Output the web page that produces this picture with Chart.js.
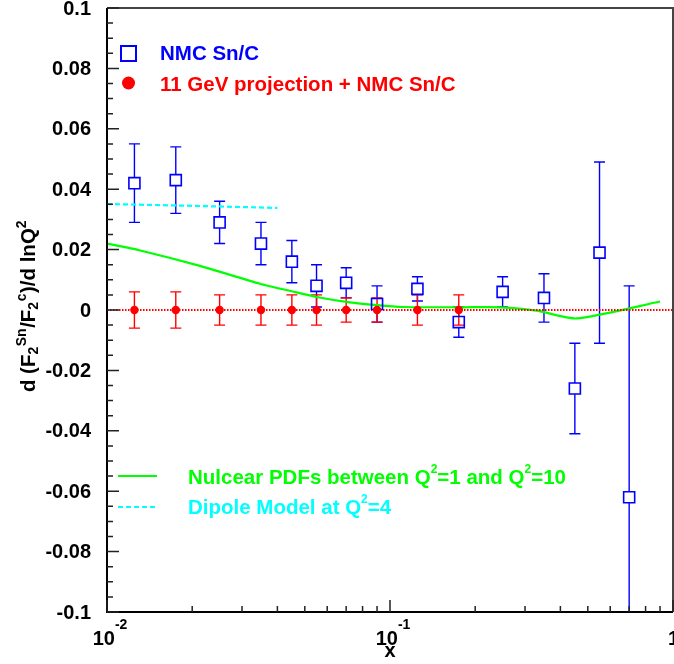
<!DOCTYPE html>
<html>
<head>
<meta charset="utf-8">
<script src="https://cdn.jsdelivr.net/npm/chart.js@4.4.0/dist/chart.umd.min.js"></script>
<style>
  html, body { margin: 0; padding: 0; background: #fff; }
  canvas { display: block; }
</style>
</head>
<body>
<canvas id="plot" width="674" height="664"></canvas>
<script>
// NMC Sn/C data points
const nmcX = [0.0125, 0.0175, 0.025, 0.035, 0.045, 0.055, 0.07, 0.09, 0.125, 0.175, 0.25, 0.35, 0.45, 0.55, 0.7];
const nmcY = [0.042, 0.043, 0.029, 0.022, 0.016, 0.008, 0.009, 0.002, 0.007, -0.004, 0.006, 0.004, -0.026, 0.019, -0.062];
const nmcErr = [0.013, 0.011, 0.007, 0.007, 0.007, 0.007, 0.005, 0.006, 0.004, 0.005, 0.005, 0.008, 0.015, 0.030, 0.070];

// 11 GeV projection
const projX = [0.0125, 0.0175, 0.025, 0.035, 0.045, 0.055, 0.07, 0.09, 0.125, 0.175];
const projY = [0, 0, 0, 0, 0, 0, 0, 0, 0, 0];
const projErr = [0.006, 0.006, 0.005, 0.005, 0.005, 0.005, 0.004, 0.004, 0.005, 0.005];

// nuclear PDF curve
const npdfX = [0.01, 0.013, 0.0213, 0.0347, 0.045, 0.0551, 0.0722, 0.09, 0.11, 0.18, 0.245, 0.33, 0.457, 0.9];
const npdfY = [0.022, 0.0198, 0.0146, 0.0087, 0.0062, 0.0043, 0.0025, 0.0016, 0.001, 0.0009, 0.0009, -0.0002, -0.0028, 0.0028];

// dipole model
const dipoleX = [0.01, 0.02, 0.04];
const dipoleY = [0.0351, 0.0345, 0.0338];

// zero reference line
const zeroX = [0.01, 1];
const zeroY = [0, 0];

// axis ticks
const yTickVals = [0.1, 0.08, 0.06, 0.04, 0.02, 0, -0.02, -0.04, -0.06, -0.08, -0.1];
const yTickLabels = ['0.1', '0.08', '0.06', '0.04', '0.02', '0', '-0.02', '-0.04', '-0.06', '-0.08', '-0.1'];
const xMajorVals = [0.01, 0.1, 1];
const xMajorLabels = [['10', '-2'], ['10', '-1'], ['1', '']];

const FONT = '"Liberation Sans", Arial, sans-serif';
const BLUE = '#0000ff', RED = '#ff0000', GREEN = '#00ff00', CYAN = '#00ffff';

function pts(xs, ys) {
  return xs.map((x, i) => ({ x: x, y: ys[i] }));
}

// draw text with sub/superscripts; parts are {t}, {sup}, {sub}
function richWidth(ctx, parts, o) {
  let w = 0;
  parts.forEach(p => {
    if (p.t !== undefined) { ctx.font = o.main; w += ctx.measureText(p.t).width; }
    else {
      ctx.font = o.small;
      w += ctx.measureText(p.sup || p.sub).width + (o.pad || 0);
    }
  });
  return w;
}

function drawRich(ctx, parts, x, y, o) {
  ctx.textBaseline = 'alphabetic';
  ctx.textAlign = 'left';
  parts.forEach(p => {
    if (p.t !== undefined) {
      ctx.font = o.main;
      ctx.fillText(p.t, x, y);
      x += ctx.measureText(p.t).width;
    } else {
      ctx.font = o.small;
      const s = p.sup || p.sub;
      ctx.fillText(s, x, p.sup ? y - o.rise : y + o.drop);
      x += ctx.measureText(s).width + (o.pad || 0);
    }
  });
}

function drawErrors(chart, xs, ys, errs, color, gap) {
  const ctx = chart.ctx, sx = chart.scales.x, sy = chart.scales.y, a = chart.chartArea;
  ctx.save();
  ctx.beginPath();
  ctx.rect(a.left, a.top - 1, a.right - a.left, a.bottom - a.top + 2);
  ctx.clip();
  ctx.strokeStyle = color;
  ctx.lineWidth = 1.4;
  xs.forEach((xv, i) => {
    const px = sx.getPixelForValue(xv);
    const py = sy.getPixelForValue(ys[i]);
    const top = Math.max(sy.getPixelForValue(ys[i] + errs[i]), a.top);
    const bot = Math.min(sy.getPixelForValue(ys[i] - errs[i]), a.bottom);
    ctx.beginPath();
    ctx.moveTo(px, top); ctx.lineTo(px, py - gap);
    ctx.moveTo(px, py + gap); ctx.lineTo(px, bot);
    ctx.moveTo(px - 5.5, top); ctx.lineTo(px + 5.5, top);
    ctx.moveTo(px - 5.5, bot); ctx.lineTo(px + 5.5, bot);
    ctx.stroke();
  });
  ctx.restore();
}

const rootStyle = {
  id: 'rootStyle',
  beforeDatasetsDraw(chart) {
    drawErrors(chart, nmcX, nmcY, nmcErr, BLUE, 5.5);
    drawErrors(chart, projX, projY, projErr, RED, 0);
  },
  afterDraw(chart) {
    const ctx = chart.ctx, sx = chart.scales.x, sy = chart.scales.y, a = chart.chartArea;
    ctx.save();

    // frame
    ctx.strokeStyle = '#444';
    ctx.lineWidth = 2;
    ctx.beginPath();
    ctx.moveTo(a.left, a.top); ctx.lineTo(a.right, a.top); ctx.lineTo(a.right, a.bottom);
    ctx.stroke();
    ctx.strokeStyle = '#000';
    ctx.beginPath();
    ctx.moveTo(a.left, a.top); ctx.lineTo(a.left, a.bottom); ctx.lineTo(a.right, a.bottom);
    ctx.stroke();

    // y ticks
    ctx.lineWidth = 1.5;
    ctx.strokeStyle = '#222';
    ctx.beginPath();
    for (let k = -20; k <= 20; k++) {
      const py = sy.getPixelForValue(k * 0.005);
      const len = (k % 4 === 0) ? 12 : 6;
      ctx.moveTo(a.left, py); ctx.lineTo(a.left + len, py);
    }
    // x ticks
    xMajorVals.forEach(v => {
      const px = sx.getPixelForValue(v);
      ctx.moveTo(px, a.bottom); ctx.lineTo(px, a.bottom - 12);
    });
    [0.01, 0.1].forEach(d => {
      for (let m = 2; m <= 9; m++) {
        const px = sx.getPixelForValue(m * d);
        ctx.moveTo(px, a.bottom); ctx.lineTo(px, a.bottom - 6);
      }
    });
    ctx.stroke();

    // y tick labels
    ctx.fillStyle = '#000';
    ctx.font = 'bold 20px ' + FONT;
    ctx.textAlign = 'right';
    ctx.textBaseline = 'middle';
    yTickVals.forEach((v, i) => {
      ctx.fillText(yTickLabels[i], a.left - 16, sy.getPixelForValue(v) + 1);
    });

    // x tick labels
    const xo = { main: 'bold 20px ' + FONT, small: 'bold 14px ' + FONT, rise: 16, drop: 0, pad: 0 };
    xMajorVals.forEach((v, i) => {
      const parts = [{ t: xMajorLabels[i][0] }];
      if (xMajorLabels[i][1]) parts.push({ sup: xMajorLabels[i][1] });
      const w = richWidth(ctx, parts, xo);
      const x0 = i === 2 ? sx.getPixelForValue(v) - 5 : sx.getPixelForValue(v) - w / 2 + 3;
      drawRich(ctx, parts, x0, 645, xo);
    });

    // x title
    ctx.font = 'bold 20px ' + FONT;
    ctx.textAlign = 'center';
    ctx.textBaseline = 'alphabetic';
    ctx.fillText('x', (a.left + a.right) / 2, 657);

    // y title
    const yo = { main: 'bold 20.5px ' + FONT, small: 'bold 14px ' + FONT, rise: 9, drop: 3, pad: 0.5 };
    const yParts = [{ t: 'd (F' }, { sub: '2' }, { sup: 'Sn' }, { t: '/F' }, { sub: '2' }, { sup: 'c' }, { t: ')/d lnQ' }, { sup: '2' }];
    const yw = richWidth(ctx, yParts, yo);
    ctx.save();
    ctx.translate(35, 306 + yw / 2);
    ctx.rotate(-Math.PI / 2);
    drawRich(ctx, yParts, 0, 0, yo);
    ctx.restore();

    // legend, top
    ctx.strokeStyle = BLUE;
    ctx.lineWidth = 2;
    ctx.strokeRect(121, 46, 15, 15);
    ctx.fillStyle = RED;
    ctx.beginPath();
    ctx.arc(128.5, 83, 6.5, 0, Math.PI * 2);
    ctx.fill();
    const lo = { main: 'bold 20.5px ' + FONT, small: 'bold 12px ' + FONT, rise: 11, drop: 0 };
    ctx.fillStyle = BLUE;
    drawRich(ctx, [{ t: 'NMC Sn/C' }], 160, 60, lo);
    ctx.fillStyle = RED;
    drawRich(ctx, [{ t: '11 GeV projection + NMC Sn/C' }], 160, 91, lo);

    // legend, bottom
    ctx.strokeStyle = GREEN;
    ctx.lineWidth = 2;
    ctx.beginPath();
    ctx.moveTo(118, 476); ctx.lineTo(157, 476);
    ctx.stroke();
    ctx.strokeStyle = CYAN;
    ctx.setLineDash([5, 3]);
    ctx.beginPath();
    ctx.moveTo(118, 507); ctx.lineTo(157, 507);
    ctx.stroke();
    ctx.setLineDash([]);
    ctx.fillStyle = GREEN;
    drawRich(ctx, [{ t: 'Nulcear PDFs between Q' }, { sup: '2' }, { t: '=1 and Q' }, { sup: '2' }, { t: '=10' }], 188, 484, lo);
    ctx.fillStyle = CYAN;
    drawRich(ctx, [{ t: 'Dipole Model at Q' }, { sup: '2' }, { t: '=4' }], 188, 514, lo);

    ctx.restore();
  }
};

const ctx = document.getElementById('plot').getContext('2d');
const chart = new Chart(ctx, {
  type: 'scatter',
  data: {
    datasets: [
      {
        label: '11 GeV projection + NMC Sn/C',
        data: pts(projX, projY),
        pointStyle: 'circle',
        pointRadius: 4.2,
        pointBackgroundColor: RED,
        pointBorderWidth: 0,
        showLine: false
      },
      {
        label: 'NMC Sn/C',
        data: pts(nmcX, nmcY),
        pointStyle: 'rect',
        pointRadius: 7.8,
        pointBackgroundColor: 'rgba(255,255,255,0)',
        pointBorderColor: BLUE,
        pointBorderWidth: 1.6,
        showLine: false
      },
      {
        label: 'zero',
        data: pts(zeroX, zeroY),
        showLine: true,
        borderColor: RED,
        borderWidth: 2,
        borderDash: [1.5, 1.5],
        pointRadius: 0
      },
      {
        label: 'Dipole Model at Q2=4',
        data: pts(dipoleX, dipoleY),
        showLine: true,
        borderColor: CYAN,
        borderWidth: 2.2,
        borderDash: [5, 3],
        pointRadius: 0
      },
      {
        label: 'Nulcear PDFs between Q2=1 and Q2=10',
        data: pts(npdfX, npdfY),
        showLine: true,
        borderColor: GREEN,
        borderWidth: 2.2,
        pointRadius: 0,
        tension: 0.2
      }
    ]
  },
  options: {
    responsive: false,
    animation: false,
    devicePixelRatio: 1,
    layout: { autoPadding: false, padding: { left: 107, right: 1, top: 8, bottom: 52 } },
    plugins: { legend: { display: false }, tooltip: { enabled: false } },
    scales: {
      x: { type: 'logarithmic', min: 0.01, max: 1, display: false },
      y: { type: 'linear', min: -0.1, max: 0.1, display: false }
    }
  },
  plugins: [rootStyle]
});
</script>
</body>
</html>
